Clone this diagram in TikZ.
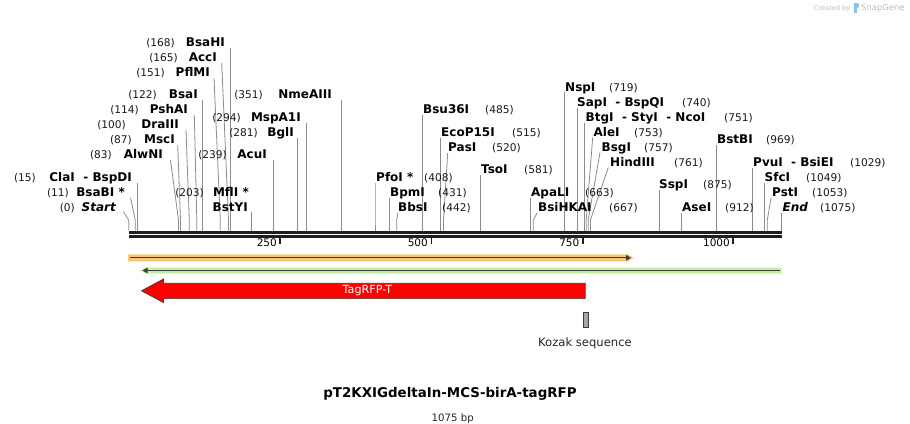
\documentclass[tikz,border=0pt]{standalone}
\usepackage{fontspec}
\setmainfont{DejaVu Sans}
\usetikzlibrary{arrows.meta}
\definecolor{cutgray}{HTML}{8C8C8C}
\definecolor{bbcol}{HTML}{1E1E1E}
\definecolor{orfill}{HTML}{F8C67A}
\definecolor{grfill}{HTML}{C2EF9A}
\definecolor{featline}{HTML}{3C3C3C}
\definecolor{kozfill}{HTML}{A4A7AD}
\definecolor{wmgray}{HTML}{BDBDBD}
\definecolor{wmblue}{HTML}{8EC3E8}
\tikzset{
  numtxt/.style={inner sep=0pt, font=\fontsize{10.6}{12}\selectfont, text=black!90},
  nametxt/.style={inner sep=0pt, font=\fontsize{12}{13}\selectfont\bfseries, text=black},
  cutline/.style={draw=cutgray, line width=0.8pt},
  ticktxt/.style={inner sep=0pt, font=\fontsize{10.5}{12}\selectfont, anchor=base east},
  tickmark/.style={draw=bbcol, line width=1.6pt},
}
\newcommand{\LLab}[6]{\node[numtxt,anchor=base east] (n#1) at (#3,#6) {#2};\node[nametxt,anchor=base east] (l#1) at (#5,#6) {#4};}
\newcommand{\RLab}[6]{\node[nametxt,anchor=base west] (l#1) at (#3,#6) {#2};\node[numtxt,anchor=base west] (n#1) at (#5,#6) {#4};}
\newcommand{\Cut}[4]{\coordinate (t#1) at (#2,#3);\coordinate (c#1) at (#4,230.7);\draw[cutline] (t#1) -- (#4,220) -- (c#1);}
\newcommand{\dsh}{\hspace{0.7em}-\hspace{0.35em}}
\begin{document}
\begin{tikzpicture}[x=1pt,y=-1pt]
\useasboundingbox (0,0) rectangle (910,423);
\fill[white] (0,0) rectangle (910,423);

% cut lines (drawn first)
\Cut{0}{123.3}{211.5}{128.7}
\Cut{11}{130.5}{197.5}{135.3}
\Cut{15}{137.3}{183}{137.3}
\Cut{83}{170.5}{160}{178.5}
\Cut{87}{177.7}{145}{180.5}
\Cut{100}{186}{130}{189.3}
\Cut{114}{194.3}{115}{196.8}
\Cut{122}{202.3}{100}{202.3}
\Cut{151}{214}{78}{220.3}
\Cut{165}{221.7}{63}{228.5}
\Cut{168}{230.7}{48}{230.7}
\Cut{203}{251.7}{212}{251.7}
\Cut{239}{273.3}{160}{273.3}
\Cut{281}{297.7}{138}{297.7}
\Cut{294}{306.7}{123}{306.7}
\Cut{351}{341.5}{100}{341.5}
\Cut{408}{375}{183}{375}
\Cut{431}{389.3}{198}{389.3}
\Cut{442}{398}{212.5}{396.7}
\Cut{485}{422.3}{115}{422.3}
\Cut{515}{440.3}{138}{440.3}
\Cut{520}{447.7}{153}{443.5}
\Cut{581}{480.7}{175}{480.7}
\Cut{663}{530.7}{198}{530.7}
\Cut{667}{537.3}{212.5}{533.3}
\Cut{719}{564.3}{92}{564.3}
\Cut{740}{577.3}{107.5}{577.3}
\Cut{751}{584.3}{122.5}{584.3}
\Cut{753}{592.7}{137.5}{586.2}
\Cut{757}{600}{152.5}{588.2}
\Cut{761}{608.3}{167.5}{590.4}
\Cut{875}{659.3}{190}{659.3}
\Cut{912}{681.3}{212.5}{681.3}
\Cut{969}{716.7}{145}{716.7}
\Cut{1029}{752.7}{168}{752.7}
\Cut{1049}{764.3}{183}{764.3}
\Cut{1053}{771}{198}{767.3}
\Cut{1075}{781.7}{212.5}{781.7}

% left labels
\LLab{0}{(0)}{75}{\itshape Start}{116}{211}
\LLab{11}{(11)}{69}{BsaBI *}{125}{196.5}
\LLab{15}{(15)}{36}{ClaI\dsh BspDI}{132}{181.5}
\LLab{83}{(83)}{112}{AlwNI}{163}{158.5}
\LLab{87}{(87)}{132}{MscI}{175}{143.5}
\LLab{100}{(100)}{126}{DraIII}{179}{128.5}
\LLab{114}{(114)}{139}{PshAI}{188}{113.5}
\LLab{122}{(122)}{157}{BsaI}{198}{98.5}
\LLab{151}{(151)}{165}{PflMI}{210}{76.5}
\LLab{165}{(165)}{178}{AccI}{217}{61.5}
\LLab{168}{(168)}{175}{BsaHI}{225}{46.5}
\LLab{351}{(351)}{263}{NmeAIII}{332}{98.5}
\LLab{294}{(294)}{241}{MspA1I}{301}{121.5}
\LLab{281}{(281)}{258}{BglI}{294}{136}
\LLab{239}{(239)}{227}{AcuI}{267}{158.5}
\LLab{203}{(203)}{204}{MflI *}{249}{196.5}
\node[nametxt,anchor=base east] (l203b) at (248,211.5) {BstYI};

% right labels
\RLab{408}{PfoI *}{376}{(408)}{424}{181}
\RLab{431}{BpmI}{390}{(431)}{438}{196}
\RLab{442}{BbsI}{398}{(442)}{442}{211}
\RLab{485}{Bsu36I}{423}{(485)}{485}{113.5}
\RLab{515}{EcoP15I}{441}{(515)}{512}{136}
\RLab{520}{PasI}{448}{(520)}{492}{151}
\RLab{581}{TsoI}{481}{(581)}{524}{173.5}
\RLab{663}{ApaLI}{531}{(663)}{585}{196}
\RLab{667}{BsiHKAI}{538}{(667)}{609}{211}
\RLab{719}{NspI}{565}{(719)}{609}{91}
\RLab{740}{SapI\dsh BspQI}{577}{(740)}{682}{106}
\RLab{751}{BtgI\dsh StyI\dsh NcoI}{585.5}{(751)}{724}{121}
\RLab{753}{AleI}{593.5}{(753)}{634}{136}
\RLab{757}{BsgI}{601.5}{(757)}{644}{151}
\RLab{761}{HindIII}{610}{(761)}{674}{166}
\RLab{875}{SspI}{659}{(875)}{703}{188.5}
\RLab{912}{AseI}{682}{(912)}{725}{211}
\RLab{969}{BstBI}{717}{(969)}{766}{143.5}
\RLab{1029}{PvuI\dsh BsiEI}{753}{(1029)}{850}{166}
\RLab{1049}{SfcI}{764.5}{(1049)}{806}{181}
\RLab{1053}{PstI}{772}{(1053)}{812}{196}
\RLab{1075}{\itshape End}{782.5}{(1075)}{820}{211}

% backbone
\fill[bbcol] (128.5,230.7) rectangle (782,233.7);
\fill[bbcol] (128.5,235.3) rectangle (782,238.3);

% ticks
\draw[tickmark] (280,238) -- (280,243.5);
\draw[tickmark] (431.3,238) -- (431.3,243.5);
\draw[tickmark] (583,238) -- (583,243.5);
\draw[tickmark] (733,238) -- (733,243.5);
\node[ticktxt] (k250) at (277,246.7) {250};
\node[ticktxt] (k500) at (428,246.7) {500};
\node[ticktxt] (k750) at (579.5,246.7) {750};
\node[ticktxt] (k1000) at (730,246.7) {1000};

% orange feature
\fill[orfill] (128,254.3) -- (628,254.3) -- (633.5,257.8) -- (628,261.3) -- (128,261.3) -- cycle;
\draw[featline, line width=1.3pt, -{Triangle[length=5pt,width=5.5pt]}] (130,257.8) -- (631,257.8);

% green feature
\fill[grfill] (140,270.5) -- (145.5,267.5) -- (781.5,267.5) -- (781.5,273.5) -- (145.5,273.5) -- cycle;
\draw[featline, line width=1.3pt, -{Triangle[length=5pt,width=5.5pt]}] (780,270.5) -- (142.5,270.5);

% TagRFP-T arrow
\draw[fill=red, draw=featline, line width=0.7pt] (141.5,290.8) -- (163.5,279) -- (163.5,283.3) -- (585.2,283.3) -- (585.2,298.6) -- (163.5,298.6) -- (163.5,302.6) -- cycle;
\node[inner sep=0pt, text=white, font=\fontsize{11.2}{13}\selectfont] (tag) at (367.5,290.8) {TagRFP-T};

% Kozak
\draw[fill=kozfill, draw=featline, line width=0.7pt] (583.5,312.5) rectangle (588.8,327.5);
\node[inner sep=0pt, anchor=base, font=\fontsize{11.6}{13}\selectfont, text=black!85] (koz) at (585,346) {Kozak sequence};

% title
\node[inner sep=0pt, anchor=base, font=\fontsize{13.4}{15}\selectfont\bfseries] (title) at (450,397.2) {pT2KXIGdeltaIn-MCS-birA-tagRFP};
\node[inner sep=0pt, anchor=base, font=\fontsize{10.2}{12}\selectfont, text=black!85] (bp) at (452.8,421.6) {1075 bp};

% watermark
\node[inner sep=0pt, anchor=base east, font=\fontsize{6.6}{8}\selectfont, text=wmgray] (wm1) at (850.5,10) {Created by};
\fill[wmblue] (853.5,2.5) rectangle (856.5,12.5);
\fill[wmblue] (856.5,2.5) .. controls (860,2.5) and (860,8) .. (856.5,8) -- cycle;
\node[inner sep=0pt, anchor=base west, font=\fontsize{8.4}{10}\selectfont, text=wmgray] (wm2) at (861,10.5) {SnapGene};
\end{tikzpicture}
\end{document}
